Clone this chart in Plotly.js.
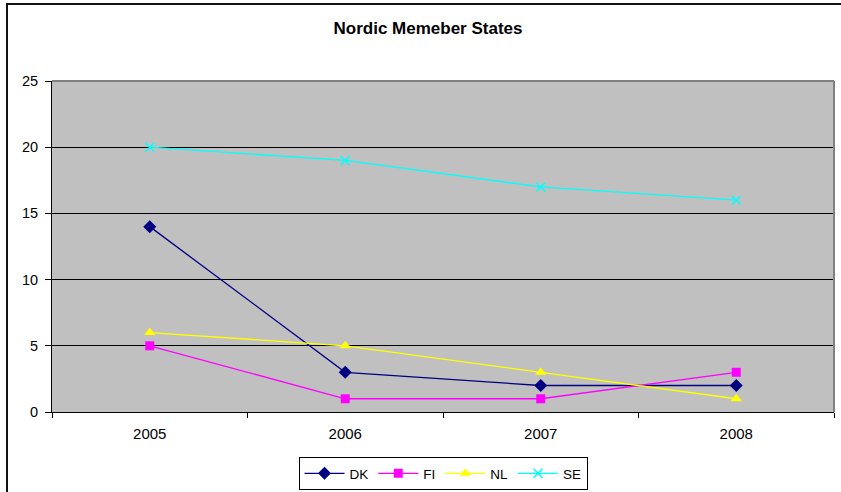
<!DOCTYPE html>
<html>
<head>
<meta charset="utf-8">
<script src="https://cdn.plot.ly/plotly-3.0.1.min.js"></script>
<style>
html,body{margin:0;padding:0;background:#fff;overflow:hidden;}
#wrap{position:relative;width:841px;height:492px;overflow:hidden;}
#chart{width:841px;height:492px;}
#cover{position:absolute;left:836px;top:6px;width:10px;height:490px;background:#fff;pointer-events:none;}
</style>
</head>
<body>
<div id="wrap"><div id="chart"></div><div id="cover"></div></div>
<script>
const years = ['2005', '2006', '2007', '2008'];
const seriesNames = ['DK', 'FI', 'NL', 'SE'];
const dk = [14, 3, 2, 2];
const fi = [5, 1, 1, 3];
const nl = [6, 5, 3, 1];
const se = [20, 19, 17, 16];

const styles = {
  DK: {color: '#000080', symbol: 'diamond', size: 10},
  FI: {color: '#FF00FF', symbol: 'square', size: 9},
  NL: {color: '#FFFF00', symbol: 'triangle-up', size: 10},
  SE: {color: '#00FFFF', symbol: 'x-thin-open', size: 9}
};
const values = [dk, fi, nl, se];

const traces = seriesNames.map((name, i) => {
  const s = styles[name];
  return {
    type: 'scatter', mode: 'lines+markers', name: name,
    x: years, y: values[i],
    line: {color: s.color, width: 1.3},
    marker: {color: s.color, symbol: s.symbol, size: s.size,
             line: {color: s.color, width: name === 'SE' ? 1.5 : 0}}
  };
});

const L = 52, R = 834, T = 81, B = 412, W = 841, H = 492;
const pw = R - L, ph = B - T;
const px = v => (v - L) / pw;
const py = v => (B - v) / ph;

const layout = {
  width: W, height: H,
  margin: {l: L, r: W - R, t: T, b: H - B, pad: 0, autoexpand: false},
  paper_bgcolor: '#FFFFFF',
  plot_bgcolor: '#C0C0C0',
  font: {family: 'Liberation Sans, Arial, sans-serif', size: 14, color: '#000'},
  title: {text: '<b>Nordic Memeber States</b>', x: 428 / W, xref: 'container', xanchor: 'center',
          y: 1 - 28 / H, yref: 'container', yanchor: 'middle',
          font: {size: 17, family: 'Liberation Sans, Arial, sans-serif', color: '#000'}},
  showlegend: true,
  legend: {orientation: 'h', xref: 'container', yref: 'container',
           x: 443 / W, xanchor: 'center', y: 1 - 490 / H, yanchor: 'bottom',
           bordercolor: '#000', borderwidth: 1, bgcolor: '#fff',
           font: {size: 13.5}, itemwidth: 40, tracegroupgap: 0},
  xaxis: {type: 'category', range: [-0.5, 3.5], tickson: 'boundaries',
          ticks: 'outside', ticklen: 5, tickcolor: '#000', tickwidth: 1,
          ticklabelstandoff: 8,
          showline: true, linecolor: '#000', linewidth: 1, showgrid: false,
          zeroline: false, fixedrange: true, tickfont: {size: 15}},
  yaxis: {range: [0, 25], dtick: 5, tick0: 0, ticks: 'outside', ticklen: 6,
          tickcolor: '#000', showline: true, linecolor: '#000', linewidth: 1,
          ticklabelstandoff: 4,
          showgrid: true, gridcolor: '#000', gridwidth: 1, zeroline: false,
          fixedrange: true, tickfont: {size: 14.5}},
  shapes: [
    {type: 'line', xref: 'paper', yref: 'paper', x0: 0, x1: 1, y0: 1, y1: 1,
     line: {color: '#808080', width: 2}, layer: 'above'},
    {type: 'line', xref: 'paper', yref: 'paper', x0: 1, x1: 1, y0: 0, y1: 1,
     line: {color: '#808080', width: 2}, layer: 'above'},
    {type: 'line', xref: 'paper', yref: 'paper', x0: px(7), x1: px(7), y0: py(3), y1: py(520),
     line: {color: '#111', width: 2}},
    {type: 'line', xref: 'paper', yref: 'paper', x0: px(6), x1: px(860), y0: py(4), y1: py(4),
     line: {color: '#111', width: 2}}
  ]
};

Plotly.newPlot('chart', traces, layout, {displayModeBar: false, staticPlot: true});
</script>
</body>
</html>
